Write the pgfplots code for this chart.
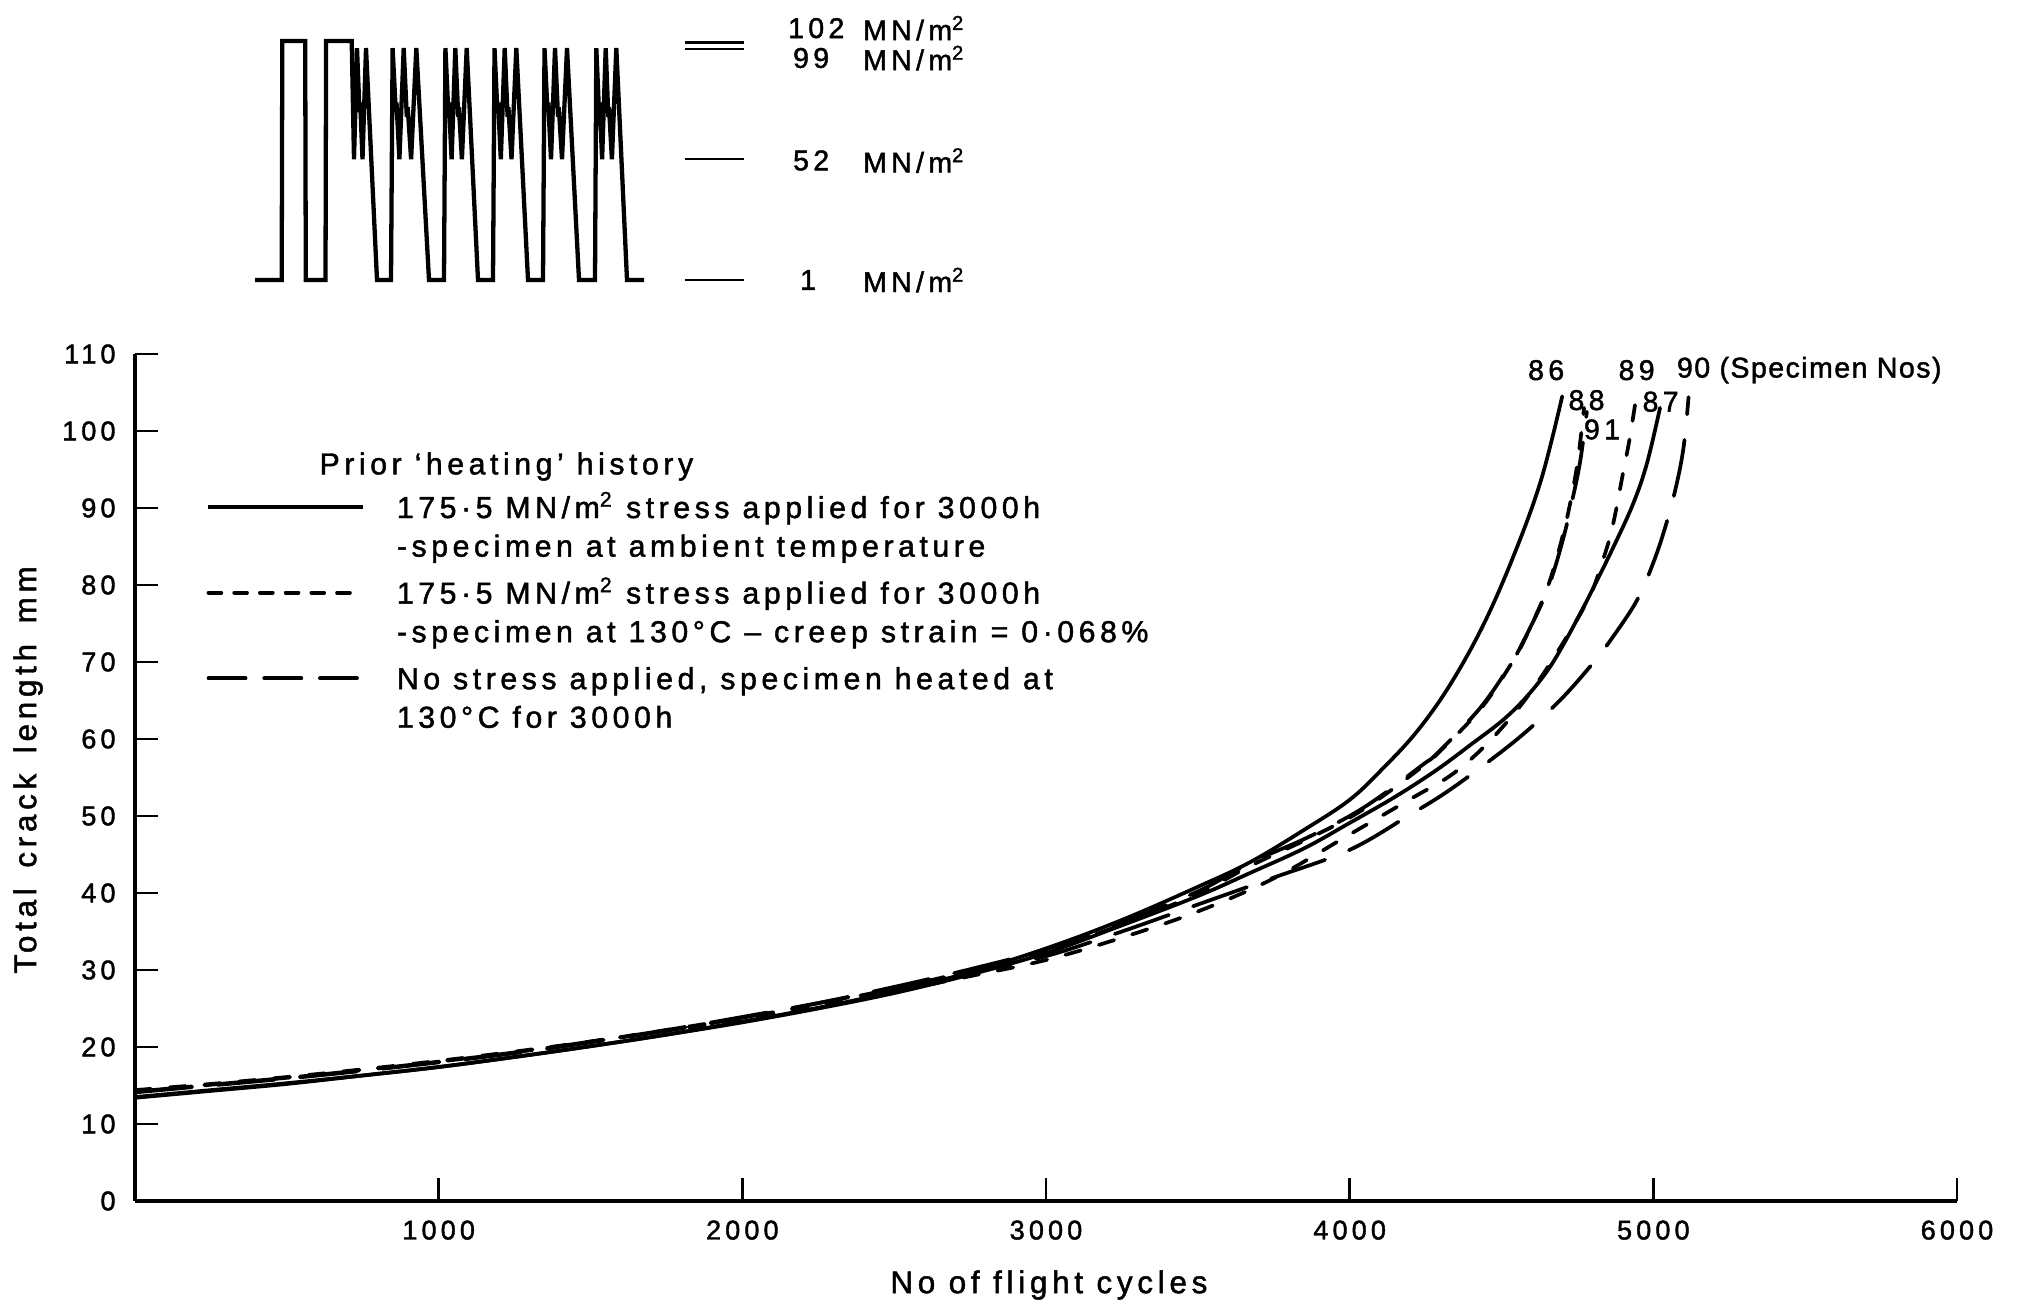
\documentclass[border=0pt]{standalone}
\usepackage{fontspec}
\setmainfont{Liberation Sans}[LetterSpace=15, FakeBold=1.5]
\usepackage{pgfplots}
\pgfplotsset{compat=1.18}
\newcommand\sq{\textsuperscript{2}}
\newcommand\twol[2]{\begin{tabular}[t]{@{}l@{}}#1\\#2\end{tabular}}
\tikzset{
  solidc/.style={line width=1.3pt, smooth, tension=0.6, line cap=round},
  shortc/.style={line width=1.3pt, smooth, tension=0.6, line cap=round, dash pattern=on 5.6pt off 6.6pt},
  longc/.style={line width=1.3pt, smooth, tension=0.6, line cap=round, dash pattern=on 20pt off 9pt},
}
\begin{document}
\begin{tikzpicture}[x=1pt,y=1pt]
\useasboundingbox (0,0) rectangle (706.65,457.45);
% ---------------- loading sequence (stress waveform) ----------------
\begin{axis}[at={(89.25pt,359.45pt)}, anchor=south west, scale only axis,
  width=171.15pt, height=83.65pt, xmin=255, xmax=744, ymin=1, ymax=102,
  axis lines=none, clip=false,
  every node/.style={font=\fontsize{10.6}{12}\selectfont, text height=7.6pt, text depth=0pt, inner sep=0pt}]
\addplot[line width=1.5pt, line join=miter] coordinates {
(255,1)(281.7,1)(282.3,102)(305.2,102)(305.8,1)(325.5,1)(326.1,102)(351.7,102)
(354,52)(357,99)(359.5,72)(360.2,76)(362.5,52)(366,99)(377,1)
(391,1)(392.6,99)(395.8,72)(396.5,76)(399.4,52)(403.7,99)(406.8,70)(407.7,74)(411.1,52)(416.3,99)(429,1)
(444,1)(445.4,99)(448.3,72)(448.9,76)(451.6,52)(455.3,99)(458.2,70)(458.9,74)(461.9,52)(466.7,99)(478,1)
(493,1)(494.5,99)(497.4,72)(498.1,76)(500.8,52)(504.7,99)(507.6,70)(508.4,74)(511.5,52)(516.3,99)(528,1)
(543,1)(544.5,99)(547.5,72)(548.2,76)(551,52)(555,99)(558,70)(558.8,74)(562,52)(567,99)(579,1)
(595,1)(596.3,99)(599,72)(599.6,76)(602.1,52)(605.7,99)(608.3,70)(609,74)(611.9,52)(616.3,99)(627,1)
(644,1)};
\addplot[line width=0.8pt] coordinates {(685,101.4)(744,101.4)};
\addplot[line width=0.8pt] coordinates {(685,98.6)(744,98.6)};
\addplot[line width=0.8pt] coordinates {(685,52)(744,52)};
\addplot[line width=0.8pt] coordinates {(685,1)(744,1)};
\node[anchor=west] at (axis cs:778,107.4) {102};
\node[anchor=west] at (axis cs:853,107.4) {MN/m\sq};
\node[anchor=west] at (axis cs:783,94.8) {99};
\node[anchor=west] at (axis cs:853,94.8) {MN/m\sq};
\node[anchor=west] at (axis cs:783,51.5) {52};
\node[anchor=west] at (axis cs:853,51.5) {MN/m\sq};
\node[anchor=west] at (axis cs:790,1) {1};
\node[anchor=west] at (axis cs:853,1) {MN/m\sq};
\end{axis}
% ---------------- main chart ----------------
\begin{axis}[at={(47.25pt,37.1pt)}, anchor=south west, scale only axis,
  width=637.7pt, height=296.45pt,
  xmin=0, xmax=6000, ymin=0, ymax=110,
  axis x line=bottom, axis y line=left,
  axis line style={line width=1.2pt, -},
  xtick={1000,2000,3000,4000,5000,6000},
  ytick={0,10,20,30,40,50,60,70,80,90,100,110},
  tick align=inside, major tick length=8pt,
  tick style={line width=0.9pt, black},
  scaled ticks=false,
  /pgf/number format/assume math mode=true,
  /pgf/number format/1000 sep={},
  tick label style={font=\fontsize{9.5}{11}\selectfont},
  xticklabel style={anchor=center, inner sep=0pt, yshift=-10.2pt},
  yticklabel style={anchor=east, inner sep=0pt, xshift=-6.6pt},
  xlabel={No of flight cycles},
  ylabel={Total\hspace{2.5pt} crack\hspace{2.5pt} length\hspace{2.5pt} mm},
  label style={font=\fontsize{11}{13}\selectfont},
  xlabel style={at={(axis description cs:0.5016,-0.0992)}, anchor=center},
  ylabel style={at={(axis description cs:-0.0587,0.509)}, anchor=center},
  clip=false,
  legend cell align=left,
  legend style={at={(axis description cs:0.039,0.8416)}, anchor=north west,
    draw=none, fill=none, inner sep=0pt, row sep=17.4pt, column sep=10.5pt,
    font=\fontsize{10.6}{13.5}\selectfont,
    nodes={inner sep=0.8pt}, cells={anchor=base west}},
  legend image code/.code={\draw[#1] (0pt,3.8pt) -- (54pt,3.8pt);},
]
% specimen 86 (solid)
\addplot[solidc, forget plot] coordinates {(0,13.4)(250,14.3)(500,15.2)(750,16.3)(1000,17.4)(1250,18.7)(1500,20.1)(1750,21.6)(2000,23.3)(2250,25.1)(2500,27.2)(2750,29.7)(3000,32.8)(3250,36.5)(3500,40.8)(3672,44)(3850,48.2)(4000,52.1)(4110,56.2)(4222,61)(4330,67)(4440,74.8)(4540,83.8)(4630,93.6)(4700,104.5)};
% specimen 87 (solid)
\addplot[solidc, forget plot] coordinates {(0,13.5)(250,14.4)(500,15.3)(750,16.3)(1000,17.4)(1250,18.7)(1500,20.1)(1750,21.6)(2000,23.2)(2250,25.0)(2500,27.0)(2750,29.4)(3000,32.2)(3250,35.8)(3500,39.6)(3672,42.6)(3850,45.8)(4000,49.1)(4150,52.5)(4287,56)(4400,59.3)(4506,62.5)(4583,65.5)(4650,68.8)(4700,72)(4758,76.2)(4802,79.6)(4867,84.8)(4933,90.5)(4979,95.8)(5022,103)};
% specimen 88 (short dash)
\addplot[shortc, forget plot] coordinates {(0,14.3)(250,15.1)(500,16.0)(750,17.0)(1000,18.1)(1250,19.3)(1500,20.7)(1750,22.2)(2000,23.8)(2250,25.6)(2500,27.6)(2750,29.9)(3000,32.5)(3250,35.9)(3500,39.9)(3672,43.5)(3850,46.8)(4000,49.8)(4110,52.6)(4242,56.5)(4287,58)(4429,63.8)(4528,69.5)(4571,72.5)(4637,78.2)(4670,81.9)(4703,86.6)(4725,90.4)(4750,95.8)(4772,103)};
% specimen 91 (long dash)
\addplot[longc, forget plot] coordinates {(0,14.1)(250,15.0)(500,15.9)(750,16.9)(1000,18.0)(1250,19.2)(1500,20.6)(1750,22.1)(2000,23.8)(2250,25.7)(2500,27.8)(2750,30.1)(3000,32.7)(3250,36.2)(3500,40.2)(3672,43.9)(3850,47)(4000,50)(4110,52.8)(4242,56.7)(4287,58.1)(4429,64)(4528,69.6)(4571,72.6)(4637,78)(4670,81.5)(4703,86)(4725,89.6)(4758,95.8)(4781,102.5)};
% specimen 89 (short dash)
\addplot[shortc, forget plot] coordinates {(0,14.4)(250,15.2)(500,16.1)(750,17.1)(1000,18.2)(1250,19.4)(1500,20.7)(1750,22.1)(2000,23.6)(2250,25.3)(2500,27.2)(2750,29.2)(3000,31.3)(3250,34.2)(3500,37.6)(3750,41.9)(4000,47.6)(4200,52.2)(4330,55.2)(4430,58.5)(4520,62.3)(4600,66.3)(4700,72.3)(4790,78.5)(4831,82.9)(4857,86.2)(4876,89.5)(4900,94.5)(4922,99)(4946,105)};
% specimen 90 (long dash)
\addplot[longc, forget plot] coordinates {(0,14.2)(250,15.1)(500,16.0)(750,17.0)(1000,18.1)(1250,19.3)(1500,20.7)(1750,22.2)(2000,23.9)(2250,25.7)(2500,27.6)(2750,29.6)(3000,31.8)(3250,35)(3500,38.5)(3750,42)(4000,45.6)(4200,50.2)(4330,53.4)(4495,58.2)(4600,61.6)(4702,65.4)(4800,69.8)(4864,73.1)(4946,78)(4999,82.8)(5040,87.6)(5075,92.8)(5100,98)(5116,104.4)};
% legend
\addlegendimage{line width=1.3pt}
\addlegendentry{\twol{175·5 MN/m\sq{} stress applied for 3000h}{-specimen at ambient temperature}}
\addlegendimage{line width=1.3pt, line cap=round, dash pattern=on 4.5pt off 4.5pt}
\addlegendentry{\twol{175·5 MN/m\sq{} stress applied for 3000h}{-specimen at 130°C – creep strain = 0·068\%}}
\addlegendimage{line width=1.3pt, line cap=round, dash pattern=on 13pt off 6.5pt}
\addlegendentry{\twol{No stress applied, specimen heated at}{130°C for 3000h}}
% legend title
\node[font=\fontsize{10.6}{13}\selectfont, anchor=west, text height=7.6pt, text depth=0pt, inner sep=0pt] at (axis cs:606,95.78) {Prior ‘heating’ history};
% specimen numbers
\node[font=\fontsize{10}{12}\selectfont, anchor=center] at (axis cs:4647,107.9) {86};
\node[font=\fontsize{10}{12}\selectfont, anchor=center] at (axis cs:4780,104) {88};
\node[font=\fontsize{10}{12}\selectfont, anchor=center] at (axis cs:4831,100.2) {91};
\node[font=\fontsize{10}{12}\selectfont, anchor=center] at (axis cs:4945,107.9) {89};
\node[font=\fontsize{10}{12}\selectfont, anchor=center] at (axis cs:5024,103.8) {87};
\node[font=\fontsize{10}{12}\selectfont\addfontfeature{LetterSpace=5}, anchor=west, inner sep=0pt] at (axis cs:5076,107.9) {90 (Specimen Nos)};
\end{axis}
\end{tikzpicture}
\end{document}
